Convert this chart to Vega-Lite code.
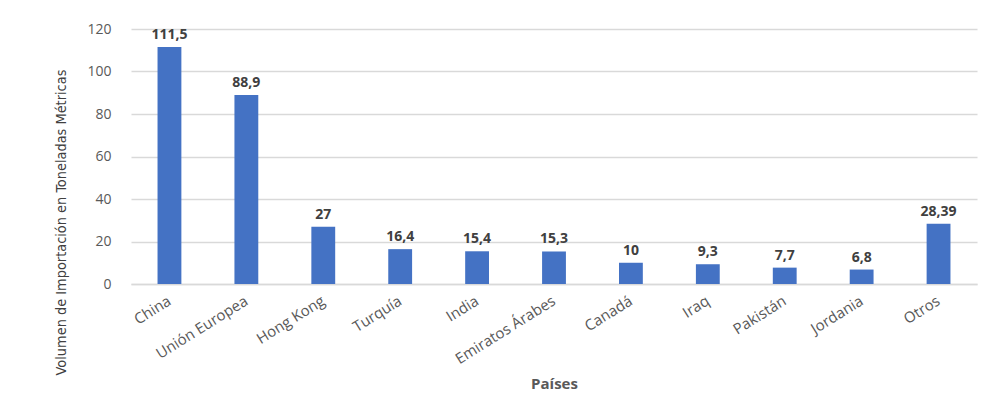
{
  "$schema": "https://vega.github.io/schema/vega-lite/v6.json",
  "width": 846,
  "height": 255,
  "autosize": {"type": "none"},
  "padding": {"left": 131, "top": 29, "right": 13, "bottom": 119},
  "background": "white",
  "config": {
    "view": {"stroke": null},
    "locale": {"number": {"decimal": ",", "thousands": ".", "grouping": [3], "currency": ["", " €"]}}
  },
  "data": {
    "values": [
      {"pais": "China", "valor": 111.5},
      {"pais": "Unión Europea", "valor": 88.9},
      {"pais": "Hong Kong", "valor": 27},
      {"pais": "Turquía", "valor": 16.4},
      {"pais": "India", "valor": 15.4},
      {"pais": "Emiratos Árabes", "valor": 15.3},
      {"pais": "Canadá", "valor": 10},
      {"pais": "Iraq", "valor": 9.3},
      {"pais": "Pakistán", "valor": 7.7},
      {"pais": "Jordania", "valor": 6.8},
      {"pais": "Otros", "valor": 28.39}
    ]
  },
  "encoding": {
    "x": {
      "field": "pais",
      "type": "nominal",
      "sort": null,
      "scale": {"paddingInner": 0.69, "paddingOuter": 0.345},
      "axis": {
        "title": "Países",
        "titleFont": "Open Sans",
        "titleFontSize": 15,
        "titleFontWeight": "bold",
        "titleColor": "#595959",
        "titlePadding": 10,
        "labelAngle": -32,
        "labelAlign": "right",
        "labelBaseline": "middle",
        "labelPadding": 15,
        "labelFont": "Open Sans",
        "labelFontSize": 15,
        "labelColor": "#595959",
        "ticks": false,
        "domainColor": "#d9d9d9",
        "domainWidth": 1.5
      }
    },
    "y": {
      "field": "valor",
      "type": "quantitative",
      "scale": {"domain": [0, 120]},
      "axis": {
        "values": [0, 20, 40, 60, 80, 100, 120],
        "title": "Volumen de Importación en Toneladas Métricas",
        "titleFont": "DejaVu Sans Condensed, DejaVu Sans, sans-serif",
        "titleFontSize": 14.4,
        "titleFontWeight": "normal",
        "titleColor": "#404040",
        "titleAngle": -90,
        "titleY": 193,
        "titleX": -70,
        "titleBaseline": "middle",
        "titleAlign": "center",
        "labelFont": "Open Sans",
        "labelFontSize": 14,
        "labelColor": "#595959",
        "labelPadding": 20,
        "ticks": false,
        "domain": false,
        "grid": true,
        "gridColor": "#d9d9d9",
        "gridWidth": 1.5
      }
    }
  },
  "layer": [
    {"mark": {"type": "bar", "color": "#4472c4"}},
    {
      "mark": {"type": "text", "dy": -12, "font": "Open Sans", "fontSize": 14, "fontWeight": "bold", "color": "#404040"},
      "encoding": {"text": {"field": "valor", "type": "quantitative", "format": "~g"}}
    }
  ]
}
